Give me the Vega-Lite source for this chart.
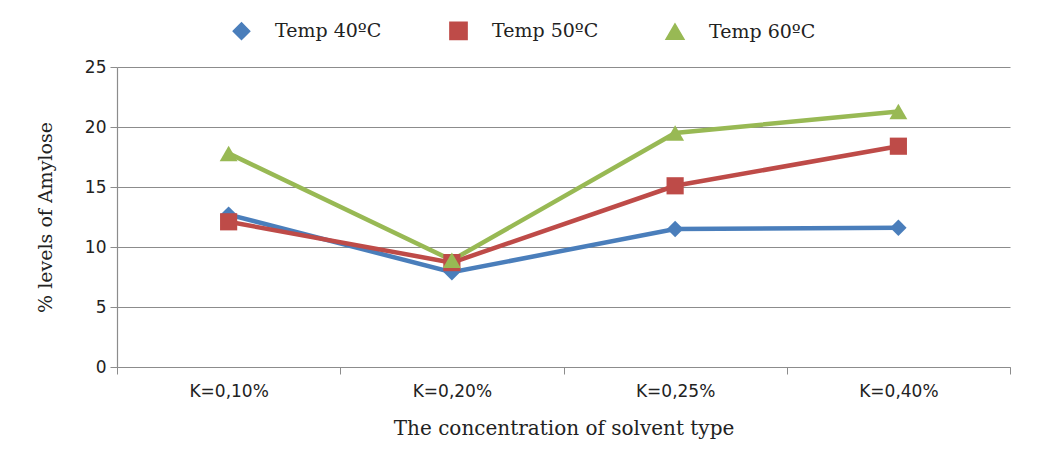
{
  "$schema": "https://vega.github.io/schema/vega-lite/v6.json",
  "width": 893,
  "height": 300,
  "autosize": {"type": "none"},
  "padding": {"left": 117, "top": 67, "right": 49, "bottom": 83},
  "background": "white",
  "config": {"view": {"stroke": null}, "font": "DejaVu Sans"},
  "data": {
    "values": [
      {"conc": "K=0,10%", "series": "Temp 40ºC", "amylose": 12.7},
      {"conc": "K=0,20%", "series": "Temp 40ºC", "amylose": 7.9},
      {"conc": "K=0,25%", "series": "Temp 40ºC", "amylose": 11.5},
      {"conc": "K=0,40%", "series": "Temp 40ºC", "amylose": 11.6},
      {"conc": "K=0,10%", "series": "Temp 50ºC", "amylose": 12.1},
      {"conc": "K=0,20%", "series": "Temp 50ºC", "amylose": 8.7},
      {"conc": "K=0,25%", "series": "Temp 50ºC", "amylose": 15.1},
      {"conc": "K=0,40%", "series": "Temp 50ºC", "amylose": 18.4},
      {"conc": "K=0,10%", "series": "Temp 60ºC", "amylose": 17.8},
      {"conc": "K=0,20%", "series": "Temp 60ºC", "amylose": 8.9},
      {"conc": "K=0,25%", "series": "Temp 60ºC", "amylose": 19.5},
      {"conc": "K=0,40%", "series": "Temp 60ºC", "amylose": 21.3}
    ]
  },
  "encoding": {
    "x": {
      "field": "conc",
      "type": "nominal",
      "sort": ["K=0,10%", "K=0,20%", "K=0,25%", "K=0,40%"],
      "scale": {"type": "band", "paddingInner": 0, "paddingOuter": 0},
      "title": "The concentration of solvent type",
      "axis": {
        "labelAngle": 0,
        "tickBand": "extent",
        "tickSize": 7,
        "tickColor": "#8c8c8c",
        "domainColor": "#8c8c8c",
        "domainWidth": 1.2,
        "labelFont": "DejaVu Sans",
        "labelFontSize": 17,
        "labelColor": "#222222",
        "labelPadding": 9,
        "titleFont": "DejaVu Serif",
        "titleFontSize": 20,
        "titleFontWeight": "normal",
        "titleColor": "#222222",
        "titlePadding": 19,
        "grid": false
      }
    },
    "y": {
      "field": "amylose",
      "type": "quantitative",
      "scale": {"domain": [0, 25]},
      "title": "% levels of Amylose",
      "axis": {
        "values": [0, 5, 10, 15, 20, 25],
        "grid": true,
        "gridColor": "#8c8c8c",
        "gridWidth": 1.2,
        "domainColor": "#8c8c8c",
        "domainWidth": 1.2,
        "tickColor": "#8c8c8c",
        "tickSize": 7,
        "labelFont": "DejaVu Sans",
        "labelFontSize": 17,
        "labelColor": "#222222",
        "labelPadding": 4,
        "titleFont": "DejaVu Serif",
        "titleFontSize": 19,
        "titleFontWeight": "normal",
        "titleColor": "#222222",
        "titlePadding": 29
      }
    },
    "color": {
      "field": "series",
      "type": "nominal",
      "scale": {
        "domain": ["Temp 40ºC", "Temp 50ºC", "Temp 60ºC"],
        "range": ["#4a7ebb", "#be4b48", "#98b954"]
      },
      "legend": {
        "orient": "none",
        "legendX": 115,
        "legendY": -46,
        "direction": "horizontal",
        "title": null,
        "padding": 0,
        "symbolSize": 150,
        "labelOffset": 24,
        "columnPadding": 64,
        "labelFont": "DejaVu Serif",
        "labelFontSize": 19,
        "labelColor": "#222222"
      }
    }
  },
  "layer": [
    {"mark": {"type": "line", "strokeWidth": 4.5}},
    {
      "mark": {"type": "point", "filled": true, "opacity": 1},
      "encoding": {
        "shape": {
          "field": "series",
          "type": "nominal",
          "scale": {
            "domain": ["Temp 40ºC", "Temp 50ºC", "Temp 60ºC"],
            "range": ["diamond", "square", "triangle-up"]
          },
          "legend": null
        },
        "size": {
          "field": "series",
          "type": "nominal",
          "scale": {
            "domain": ["Temp 40ºC", "Temp 50ºC", "Temp 60ºC"],
            "range": [270, 320, 360]
          },
          "legend": null
        }
      }
    }
  ]
}
